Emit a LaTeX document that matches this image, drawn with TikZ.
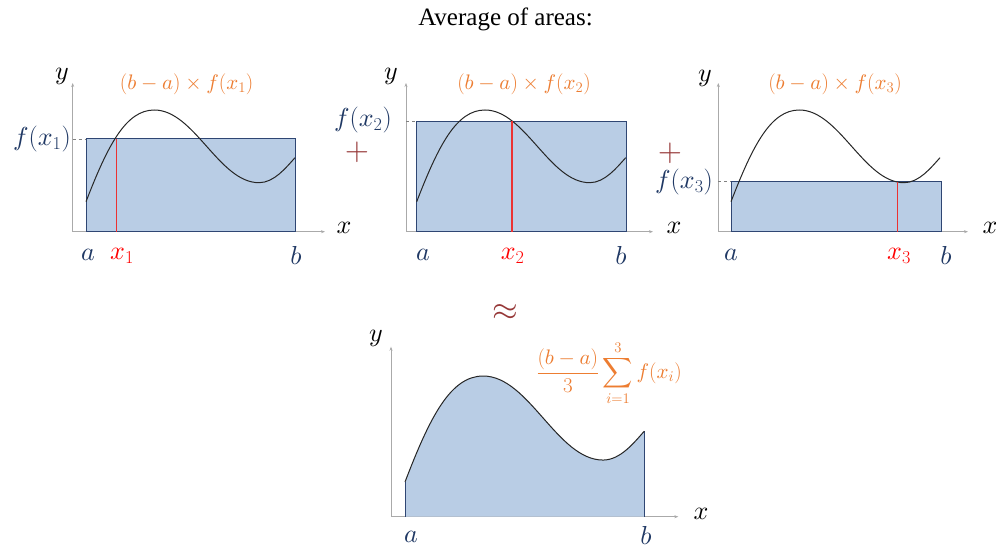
\RequirePackage{fix-cm}
\documentclass[tikz,border=0pt]{standalone}
\usepackage{amsmath}
\DeclareFontShape{OMX}{cmex}{m}{n}{<->cmex10}{}
\DeclareFontShape{OML}{cmm}{m}{it}{<->cmmi10}{}
\DeclareFontShape{OMS}{cmsy}{m}{n}{<->cmsy10}{}
\usepackage{fontspec}
\newfontfamily\titlefont{Liberation Serif}
\usetikzlibrary{arrows.meta}
\definecolor{navy}{RGB}{31,56,100}
\definecolor{orng}{RGB}{237,125,49}
\definecolor{rfill}{RGB}{185,205,229}
\definecolor{rdraw}{RGB}{47,70,115}
\definecolor{axisg}{RGB}{170,170,170}
\definecolor{maroonc}{RGB}{150,55,55}
\definecolor{redl}{RGB}{235,50,50}
\newcommand\fcurve{(0,30) .. controls (22,87) and (40,121.7) .. (68.3,121.7) .. controls (108.3,121.7) and (133,49) .. (173,49) .. controls (188,49) and (200,64) .. (209,74)}
\tikzset{
  axisline/.style={axisg, line width=0.8pt, -{Stealth[length=4pt,width=3pt]}},
  rectbox/.style={fill=rfill, draw=rdraw, line width=1pt},
  curveline/.style={black!85, line width=1pt},
  redline/.style={redl, line width=1.5pt},
  dashline/.style={gray, dashed, line width=0.8pt},
  lbl/.style={navy, font=\fontsize{26}{30}\selectfont, inner sep=0pt},
  redlbl/.style={red, font=\fontsize{26}{30}\selectfont, inner sep=0pt},
  axlbl/.style={black, font=\fontsize{26}{30}\selectfont, inner sep=0pt},
  orlbl/.style={orng, font=\fontsize{21}{24}\selectfont, inner sep=0pt},
  opsign/.style={maroonc, font=\fontsize{33}{34}\selectfont, inner sep=0pt},
}
\begin{document}
\begin{tikzpicture}[x=1pt,y=-1pt]
\useasboundingbox[fill=white] (0,0) rectangle (996,548);
\node[font=\titlefont\fontsize{25}{28}\selectfont, inner sep=0pt] (title) at (505.5,19) {Average of areas:};

% ---------- panel 1 ----------
\begin{scope}[shift={(86,231.7)}, yscale=-1]
  \draw[axisline] (-13.3,0) -- (239,0);
  \draw[axisline] (-13.3,0) -- (-13.3,148.7);
  \draw[rectbox] (0,0) rectangle (209.3,92.7);
  \draw[curveline] \fcurve;
  \draw[redline] (30.5,0) -- (30.5,92.7);
  \draw[dashline] (-13.3,92.7) -- (0,92.7);
  \node[lbl, anchor=east] (f1) at (-15,93) {$f(x_1)$};
  \node[axlbl] (y1) at (-24,155) {$y$};
  \node[axlbl] (xa1) at (258,3.7) {$x$};
  \node[lbl] (a1) at (2,-23.3) {$a$};
  \node[redlbl] (xx1) at (36,-24.5) {$x_1$};
  \node[lbl] (b1) at (210,-23.3) {$b$};
  \node[orlbl] (o1) at (100.7,147.7) {$(b-a)\times f(x_1)$};
\end{scope}

% ---------- panel 2 ----------
\begin{scope}[shift={(416.7,231.7)}, yscale=-1]
  \draw[axisline] (-10.7,0) -- (236.3,0);
  \draw[axisline] (-10.7,0) -- (-10.7,148.7);
  \draw[rectbox] (0,0) rectangle (209.3,110.4);
  \draw[curveline] \fcurve;
  \draw[redline] (95.3,0) -- (95.3,110.4);
  \draw[dashline] (-10.7,110.4) -- (0,110.4);
  \node[lbl, anchor=east] (f2) at (-24.7,111.7) {$f(x_2)$};
  \node[axlbl] (y2) at (-25.7,155) {$y$};
  \node[axlbl] (xa2) at (257.3,3.7) {$x$};
  \node[lbl] (a2) at (6.3,-23.3) {$a$};
  \node[redlbl] (xx2) at (96,-24.5) {$x_2$};
  \node[lbl] (b2) at (204.3,-23.3) {$b$};
  \node[orlbl] (o2) at (107.3,147.7) {$(b-a)\times f(x_2)$};
\end{scope}
\node[opsign] (plus1) at (357,152) {$+$};

% ---------- panel 3 ----------
\begin{scope}[shift={(731,231.7)}, yscale=-1]
  \draw[axisline] (-12.7,0) -- (237,0);
  \draw[axisline] (-12.7,0) -- (-12.7,148.7);
  \draw[rectbox] (0,0) rectangle (210,50);
  \draw[curveline] \fcurve;
  \draw[redline] (166.5,0) -- (166.5,50);
  \draw[dashline] (-12.7,50) -- (0,50);
  \node[lbl, anchor=east] (f3) at (-18,50) {$f(x_3)$};
  \node[axlbl] (y3) at (-26,153) {$y$};
  \node[axlbl] (xa3) at (259,3.7) {$x$};
  \node[lbl] (a3) at (0,-23.3) {$a$};
  \node[redlbl] (xx3) at (168,-24.5) {$x_3$};
  \node[lbl] (b3) at (215,-23.3) {$b$};
  \node[orlbl] (o3) at (104,147.7) {$(b-a)\times f(x_3)$};
\end{scope}
\node[opsign] (plus2) at (670,153) {$+$};

% ---------- bottom ----------
\node[opsign] (approx) at (505,313) {$\approx$};
\begin{scope}[shift={(405,516.7)}, yscale=-1]
  \draw[axisline] (-14,0) -- (273.3,0);
  \draw[axisline] (-14,0) -- (-14,170);
  \begin{scope}[xscale=1.145, yscale=1.156]
    \fill[rfill] (0,0) -- \fcurve -- (209,0) -- cycle;
    \draw[rdraw, line width=1pt] (0,0) -- (0,30);
    \draw[rdraw, line width=1pt] (209,74) -- (209,0);
    \draw[curveline] \fcurve;
  \end{scope}
\end{scope}
\node[lbl] (a4) at (411,537) {$a$};
\node[lbl] (b4) at (646,535.5) {$b$};
\node[axlbl] (xa4) at (701,514) {$x$};
\node[axlbl] (y4) at (376,338) {$y$};
\node[orlbl] (sumf) at (609,373) {$\displaystyle\frac{(b-a)}{3}\sum_{i=1}^{3} f(x_i)$};
\end{tikzpicture}
\end{document}
